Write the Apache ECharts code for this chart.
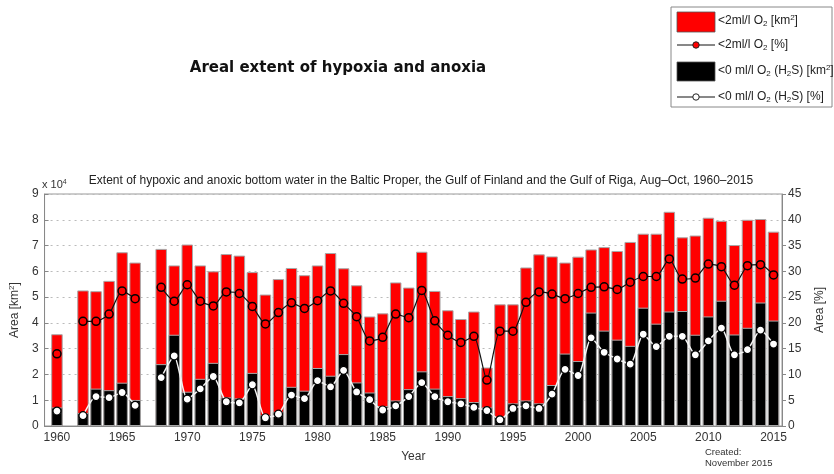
<!DOCTYPE html>
<html>
<head>
<meta charset="utf-8">
<script src="https://cdn.jsdelivr.net/npm/echarts@6/dist/echarts.min.js"></script>
<style>
html,body{margin:0;padding:0;background:#fff;}
#c{width:834px;height:474px;}
</style>
</head>
<body>
<div id="c"></div>
<script>
// Years 1960-2015 (null = no data)
const years = [1960,1961,1962,1963,1964,1965,1966,1967,1968,1969,1970,1971,1972,1973,1974,1975,1976,1977,1978,1979,1980,1981,1982,1983,1984,1985,1986,1987,1988,1989,1990,1991,1992,1993,1994,1995,1996,1997,1998,1999,2000,2001,2002,2003,2004,2005,2006,2007,2008,2009,2010,2011,2012,2013,2014,2015];
// <2 ml/l O2 area [km2]
const hypoxicArea = [35600,null,52600,52300,56300,67400,63400,null,68700,62300,70400,62300,60000,66700,66100,59700,51000,57000,61300,58500,62300,67100,61200,54600,42500,43700,55700,53700,67600,52400,44900,41500,44400,22700,47200,47200,61500,66600,65800,63400,65700,68500,69400,67900,71400,74600,74600,83100,73200,73900,80800,79600,70200,80000,80300,75400];
// <0 ml/l O2 (H2S) area [km2]
const anoxicArea = [7200,null,5000,14500,13900,16800,10100,null,24000,35400,13300,18300,24500,11100,10700,20600,4200,5500,15200,13700,22500,19500,27900,16900,13000,7700,9900,14300,21200,14500,11600,10800,9300,7200,3600,8800,9900,8800,15900,28100,25200,44000,37000,33500,31100,45900,39700,44400,44600,35400,42500,48600,35500,38100,47900,40900];
// <2 ml/l O2 [%]
const hypoxicPct = [14.0,null,20.3,20.3,21.7,26.2,24.7,null,26.9,24.2,27.4,24.2,23.3,26.0,25.7,23.2,19.8,22.0,23.9,22.8,24.3,26.2,23.8,21.2,16.5,17.2,21.7,21.0,26.3,20.4,17.6,16.2,17.4,8.9,18.4,18.4,24.0,26.0,25.6,24.7,25.7,26.9,27.0,26.5,27.9,29.0,29.0,32.4,28.5,28.7,31.4,30.9,27.3,31.1,31.3,29.3];
// <0 ml/l O2 (H2S) [%]
const anoxicPct = [2.9,null,2.0,5.7,5.5,6.5,4.0,null,9.4,13.6,5.2,7.2,9.6,4.7,4.5,8.0,1.6,2.3,6.0,5.3,8.8,7.6,10.8,6.6,5.1,3.1,3.9,5.7,8.4,5.7,4.7,4.3,3.6,3.0,1.2,3.4,3.9,3.4,6.2,11.0,9.8,17.1,14.3,13.0,12.0,17.8,15.4,17.4,17.4,13.8,16.5,19.0,13.8,14.8,18.6,15.9];
const yearTicks = [1960,1965,1970,1975,1980,1985,1990,1995,2000,2005,2010,2015];

const pair = arr => years.map((y,i) => [y, arr[i] === null ? '-' : arr[i]]);
const FONT = 'Liberation Sans, Arial, sans-serif';

const chart = echarts.init(document.getElementById('c'), null, {renderer:'canvas'});
const subRich = {
  sub:{fontSize:8, verticalAlign:'bottom', padding:[6,0,0,0], fontFamily:FONT, color:'#222'},
  sup:{fontSize:8, verticalAlign:'top', padding:[0,0,6,0], fontFamily:FONT, color:'#222'}
};
const legFont = '12px "Liberation Sans", Arial, sans-serif';
chart.setOption({
  animation:false,
  backgroundColor:'#fff',
  textStyle:{fontFamily:FONT},
  grid:{left:42, right:39, top:194, bottom:48, show:true, borderColor:'#999', borderWidth:1, backgroundColor:'transparent'},
  xAxis:{
    type:'value', min:1959.05, max:2015.65,
    name:'Year', nameLocation:'middle', nameGap:25,
    nameTextStyle:{fontSize:12, color:'#333', fontFamily:FONT},
    axisLine:{show:true, lineStyle:{color:'#888'}},
    axisTick:{show:true, inside:true, length:4, customValues:yearTicks, lineStyle:{color:'#888'}},
    axisLabel:{customValues:yearTicks, formatter:v => String(v), fontSize:12, color:'#333', margin:6, fontFamily:FONT},
    splitLine:{show:false}
  },
  yAxis:[{
    type:'value', min:0, max:90000, interval:10000,
    name:'Area [km{sup|2}]', nameLocation:'middle', nameGap:22, nameRotate:90,
    nameTextStyle:{fontSize:12, color:'#333', fontFamily:FONT, rich:{sup:{fontSize:8, verticalAlign:'top', padding:[0,0,6,0], color:'#333'}}},
    axisLine:{show:true, lineStyle:{color:'#888'}},
    axisTick:{show:true, inside:true, length:4, lineStyle:{color:'#888'}},
    axisLabel:{formatter:v => String(v/10000), fontSize:12, color:'#333', margin:6, fontFamily:FONT},
    splitLine:{show:true, lineStyle:{color:'#bbb', type:[2,4], width:1}}
  },{
    type:'value', min:0, max:45, interval:5, position:'right',
    name:'Area [%]', nameLocation:'middle', nameGap:32, nameRotate:90,
    nameTextStyle:{fontSize:12, color:'#333', fontFamily:FONT},
    axisLine:{show:true, lineStyle:{color:'#888'}},
    axisTick:{show:true, inside:false, length:4, lineStyle:{color:'#888'}},
    axisLabel:{fontSize:12, color:'#333', margin:6, fontFamily:FONT},
    splitLine:{show:false}
  }],
  series:[
    {name:'<2ml/l O2 [km2]', type:'bar', data:pair(hypoxicArea), barWidth:11.5, barGap:'-100%',
     itemStyle:{color:'#ff0000', borderColor:'#a8a8a8', borderWidth:1}},
    {name:'<0 ml/l O2 (H2S) [km2]', type:'bar', data:pair(anoxicArea), barWidth:11.5, barGap:'-100%',
     itemStyle:{color:'#000000', borderColor:'#a8a8a8', borderWidth:1}},
    {name:'<2ml/l O2 [%]', type:'line', yAxisIndex:1, data:pair(hypoxicPct), connectNulls:false, smooth:0.2,
     symbol:'circle', symbolSize:8, lineStyle:{color:'#111', width:1.2},
     itemStyle:{color:'#ff0000', borderColor:'#000', borderWidth:1.5}, z:5},
    {name:'<0 ml/l O2 (H2S) [%]', type:'line', yAxisIndex:1, data:pair(anoxicPct), connectNulls:false, smooth:0.2,
     symbol:'circle', symbolSize:8, lineStyle:{color:'#f4f4f4', width:1.5},
     itemStyle:{color:'#ffffff', borderColor:'#000', borderWidth:1.2}, z:5}
  ],
  graphic:[
    {type:'text', x:338, y:68, style:{text:'Areal extent of hypoxia and anoxia', textAlign:'center', textVerticalAlign:'middle', font:'bold 15px "DejaVu Sans", sans-serif', fill:'#111'}},
    {type:'text', x:421, y:181, style:{text:'Extent of hypoxic and anoxic bottom water in the Baltic Proper, the Gulf of Finland and the Gulf of Riga, Aug\u2013Oct, 1960\u20132015', textAlign:'center', textVerticalAlign:'middle', font:'12px "Liberation Sans", Arial, sans-serif', fill:'#222'}},
    {type:'text', x:42, y:179, style:{text:'x 10{sup|4}', rich:{sup:{fontSize:7, verticalAlign:'top', padding:[0,0,5,0], fill:'#333'}}, font:'11px "Liberation Sans", Arial, sans-serif', fill:'#333'}},
    {type:'text', x:705, y:447, style:{text:'Created:\nNovember 2015', font:'9.5px "Liberation Sans", Arial, sans-serif', fill:'#333', lineHeight:11}},
    // legend box
    {type:'rect', shape:{x:671, y:7, width:161, height:100}, style:{fill:'#fff', stroke:'#888', lineWidth:1}, z:10},
    {type:'rect', shape:{x:677, y:12, width:38, height:20}, style:{fill:'#ff0000', stroke:'#555', lineWidth:0.8}, z:11},
    {type:'line', shape:{x1:677, y1:45, x2:715, y2:45}, style:{stroke:'#111', lineWidth:1}, z:11},
    {type:'circle', shape:{cx:696, cy:45, r:3.2}, style:{fill:'#ff0000', stroke:'#222', lineWidth:1}, z:12},
    {type:'rect', shape:{x:677, y:62, width:38, height:19}, style:{fill:'#000', stroke:'#555', lineWidth:0.8}, z:11},
    {type:'line', shape:{x1:677, y1:97, x2:715, y2:97}, style:{stroke:'#111', lineWidth:1}, z:11},
    {type:'circle', shape:{cx:696, cy:97, r:3.2}, style:{fill:'#fff', stroke:'#222', lineWidth:1}, z:12},
    {type:'text', x:718, y:14, z:12, style:{text:'<2ml/l O{sub|2} [km{sup|2}]', rich:subRich, font:legFont, fill:'#222'}},
    {type:'text', x:718, y:38, z:12, style:{text:'<2ml/l O{sub|2} [%]', rich:subRich, font:legFont, fill:'#222'}},
    {type:'text', x:718, y:64, z:12, style:{text:'<0 ml/l O{sub|2} (H{sub|2}S) [km{sup|2}]', rich:subRich, font:legFont, fill:'#222'}},
    {type:'text', x:718, y:90, z:12, style:{text:'<0 ml/l O{sub|2} (H{sub|2}S) [%]', rich:subRich, font:legFont, fill:'#222'}}
  ]
});
</script>
</body>
</html>
